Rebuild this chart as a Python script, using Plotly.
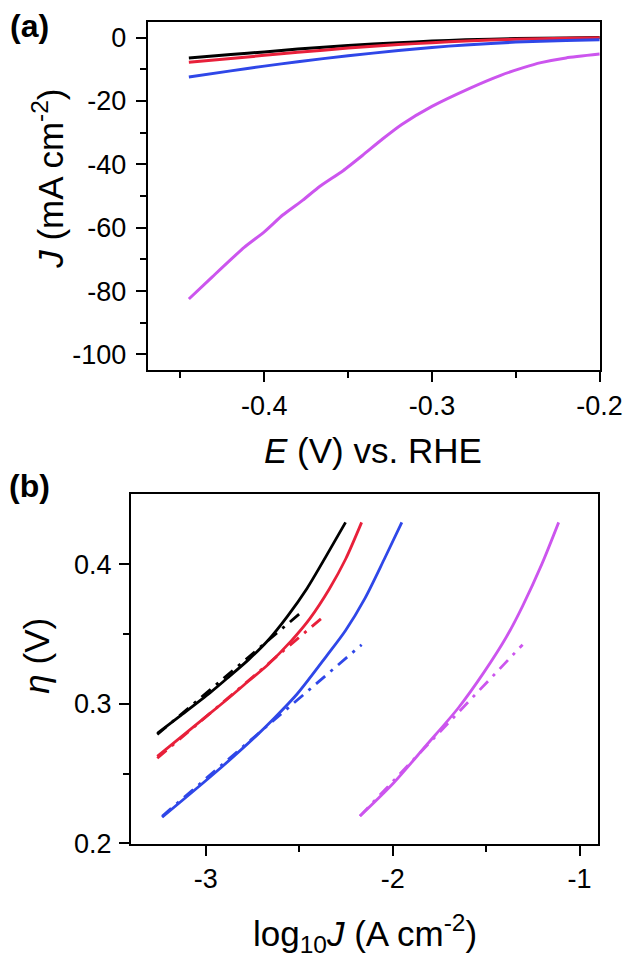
import plotly.graph_objects as go

# ---------------- Panel (a): polarization curves ----------------
a_E = [-0.445, -0.42, -0.40, -0.38, -0.35, -0.32, -0.30, -0.28, -0.25, -0.22, -0.20]
a_black = [-6.4, -5.3, -4.5, -3.6, -2.5, -1.6, -1.1, -0.7, -0.3, -0.1, 0.0]
a_red = [-7.8, -6.6, -5.6, -4.65, -3.3, -2.2, -1.6, -1.1, -0.5, -0.2, -0.05]
a_blue = [-12.4, -10.5, -9.0, -7.6, -5.7, -4.1, -3.1, -2.3, -1.4, -0.9, -0.7]

a_E_mag = [-0.445, -0.431, -0.412, -0.400, -0.389, -0.377, -0.367, -0.353,
           -0.3415, -0.3295, -0.318, -0.300, -0.2775, -0.259, -0.245, -0.235, -0.22, -0.20]
a_mag = [-82.5, -75.5, -66.2, -61.3, -56.0, -51.3, -47.0, -42.0,
         -37.2, -32.0, -27.4, -21.7, -16.0, -11.9, -9.4, -7.9, -6.4, -5.2]

a_xticks = [-0.4, -0.3, -0.2]
a_xticktext = ["-0.4", "-0.3", "-0.2"]
a_xminor = [-0.45, -0.35, -0.25]
a_yticks = [0, -20, -40, -60, -80, -100]
a_yticktext = ["0", "-20", "-40", "-60", "-80", "-100"]
a_yminor = [-10, -30, -50, -70, -90]

# ---------------- Panel (b): Tafel plots ----------------
b_black_x = [-3.259, -3.14, -2.976, -2.872, -2.769, -2.666, -2.562, -2.459, -2.355, -2.252]
b_black_y = [0.2788, 0.2910, 0.3080, 0.3198, 0.3318, 0.3455, 0.3628, 0.3824, 0.4059, 0.4299]
b_red_x = [-3.259, -3.0, -2.872, -2.769, -2.666, -2.545, -2.442, -2.338, -2.252, -2.166]
b_red_y = [0.2624, 0.2906, 0.3047, 0.3165, 0.3282, 0.3447, 0.3612, 0.3824, 0.4035, 0.4299]
b_blue_x = [-3.233, -2.95, -2.734, -2.631, -2.511, -2.355, -2.252, -2.149, -2.045, -1.951]
b_blue_y = [0.2188, 0.2506, 0.2765, 0.2900, 0.3070, 0.3340, 0.3525, 0.3753, 0.4035, 0.4299]
b_mag_x = [-2.175, -1.994, -1.822, -1.649, -1.512, -1.391, -1.305, -1.202, -1.112]
b_mag_y = [0.2196, 0.2435, 0.2700, 0.2970, 0.3225, 0.3480, 0.3700, 0.4000, 0.4299]

# linear Tafel fits (end points)
fit_black_x = [-3.259, -2.48]
fit_black_y = [0.2780, 0.3665]
fit_red_x = [-3.259, -2.364]
fit_red_y = [0.261, 0.3631]
fit_blue_x = [-3.233, -2.166]
fit_blue_y = [0.2195, 0.3423]
fit_mag_x = [-2.175, -1.305]
fit_mag_y = [0.2196, 0.3423]

b_xticks = [-3, -2, -1]
b_xticktext = ["-3", "-2", "-1"]
b_xminor = [-2.5, -1.5]
b_yticks = [0.2, 0.3, 0.4]
b_yticktext = ["0.2", "0.3", "0.4"]
b_yminor = [0.25, 0.35]

BLACK = "#000000"
RED = "#e8203a"
BLUE = "#2f47e8"
MAG = "#cc55ee"

W, H = 640, 962
FONT = "Liberation Sans, Arial, sans-serif"
TICK = 27
TITLE = 35

fig = go.Figure()

def line(x, y, color, xa, ya, dash="solid", width=3, smooth=0.5):
    fig.add_trace(go.Scatter(x=x, y=y, mode="lines", xaxis=xa, yaxis=ya,
                             line=dict(color=color, width=width, dash=dash,
                                       shape="spline", smoothing=smooth),
                             showlegend=False, hoverinfo="skip"))

line(a_E, a_black, BLACK, "x", "y")
line(a_E, a_red, RED, "x", "y")
line(a_E, a_blue, BLUE, "x", "y")
line(a_E_mag, a_mag, MAG, "x", "y")

DD = "12px,7px,3px,7px"
line(fit_black_x, fit_black_y, BLACK, "x2", "y2", DD, 2.8)
line(fit_red_x, fit_red_y, RED, "x2", "y2", DD, 2.8)
line(fit_blue_x, fit_blue_y, BLUE, "x2", "y2", DD, 2.8)
line(fit_mag_x, fit_mag_y, MAG, "x2", "y2", DD, 2.8)
line(b_black_x, b_black_y, BLACK, "x2", "y2", "solid", 2.8, 0.8)
line(b_red_x, b_red_y, RED, "x2", "y2", "solid", 2.8, 0.8)
line(b_blue_x, b_blue_y, BLUE, "x2", "y2", "solid", 2.8, 0.8)
line(b_mag_x, b_mag_y, MAG, "x2", "y2", "solid", 2.8, 0.8)

def ax(domain, rng, tv, tt, mv, anchor, standoff):
    return dict(domain=domain, range=rng, anchor=anchor,
                tickmode="array", tickvals=tv, ticktext=tt,
                showline=True, linecolor="black", linewidth=2, mirror=True,
                ticks="outside", ticklen=10, tickwidth=2, tickcolor="black",
                ticklabelstandoff=standoff,
                minor=dict(tickmode="array", tickvals=mv, ticks="outside", ticklen=6,
                           tickwidth=2, tickcolor="black", showgrid=False),
                showgrid=False, zeroline=False,
                tickfont=dict(family=FONT, size=TICK, color="black"))

# pixel frames (left, right, top, bottom)
ax_a = (145, 614, 14, 368)
ax_b = (127.5, 612.5, 494, 849)

def xd(f):
    return [f[0] / W, f[1] / W]

def yd(f):
    return [1 - f[3] / H, 1 - f[2] / H]

fig.update_layout(
    width=W, height=H, autosize=False,
    margin=dict(l=0, r=0, t=0, b=0),
    paper_bgcolor="white", plot_bgcolor="white",
    font=dict(family=FONT, color="black"),
    xaxis=ax(xd(ax_a), [-0.4695, -0.1998], a_xticks, a_xticktext, a_xminor, "y", 0),
    yaxis=ax(yd(ax_a), [-105, 5], a_yticks, a_yticktext, a_yminor, "x", 4),
    xaxis2=ax(xd(ax_b), [-3.40, -0.899], b_xticks, b_xticktext, b_xminor, "y2", 0),
    yaxis2=ax(yd(ax_b), [0.1998, 0.45], b_yticks, b_yticktext, b_yminor, "x2", 2),
)

def ann(text, xpx, ypx, size, angle=0, bold=False):
    fig.add_annotation(text=("<b>%s</b>" % text) if bold else text,
                       x=xpx / W, y=1 - ypx / H, xref="paper", yref="paper",
                       xanchor="center", yanchor="middle", showarrow=False,
                       textangle=angle, font=dict(family=FONT, size=size, color="black"))

ann("(a)", 22, 18, 32, bold=True)
ann("(b)", 22, 486, 32, bold=True)
ann("<i>J</i> (mA cm<sup>-2</sup>)", 42, 173, TITLE, angle=-90)
ann("<i>E</i> (V) vs. RHE", 379, 450, TITLE)
ann("<i>η</i> (V)", 30, 658, TITLE, angle=-90)
ann("log<sub>10</sub><i>J</i> (A cm<sup>-2</sup>)", 370, 940, TITLE)

fig.write_html("out.html")
